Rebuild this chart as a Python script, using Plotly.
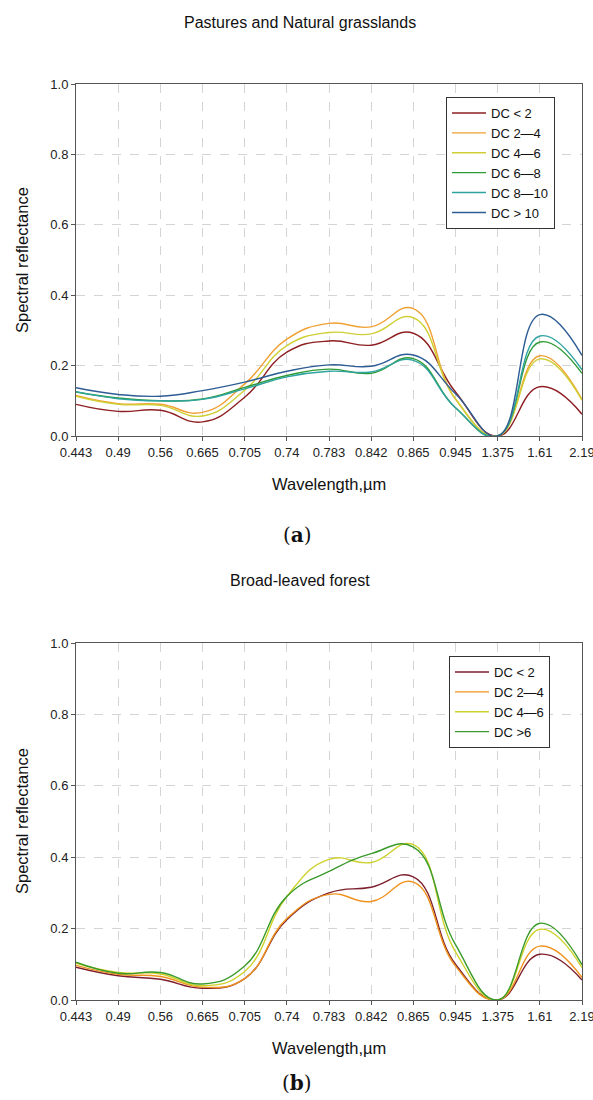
import plotly.graph_objects as go

wavelengths = ["0.443", "0.49", "0.56", "0.665", "0.705", "0.74", "0.783",
               "0.842", "0.865", "0.945", "1.375", "1.61", "2.19"]

# Panel (a): Pastures and Natural grasslands
a_names = ["DC < 2", "DC 2\u20144", "DC 4\u20146", "DC 6\u20148", "DC 8\u201410", "DC > 10"]
a_dc_lt2 = [0.090, 0.070, 0.073, 0.040, 0.110, 0.238, 0.270, 0.258, 0.292, 0.125, 0.0, 0.140, 0.062]
a_dc_2_4 = [0.115, 0.092, 0.090, 0.067, 0.148, 0.275, 0.320, 0.310, 0.362, 0.105, 0.0, 0.228, 0.104]
a_dc_4_6 = [0.113, 0.090, 0.087, 0.057, 0.130, 0.257, 0.294, 0.290, 0.336, 0.105, 0.0, 0.219, 0.102]
a_dc_6_8 = [0.125, 0.108, 0.100, 0.105, 0.138, 0.172, 0.190, 0.178, 0.220, 0.080, 0.0, 0.267, 0.178]
a_dc_8_10 = [0.126, 0.106, 0.100, 0.104, 0.134, 0.168, 0.184, 0.182, 0.215, 0.080, 0.0, 0.284, 0.188]
a_dc_gt10 = [0.137, 0.118, 0.113, 0.129, 0.153, 0.184, 0.202, 0.198, 0.230, 0.120, 0.0, 0.345, 0.229]
a_colors = ["#8e1f22", "#f0a032", "#cfcf35", "#2e9a36", "#2fa3a0", "#2d5d94"]

# Panel (b): Broad-leaved forest
b_names = ["DC < 2", "DC 2\u20144", "DC 4\u20146", "DC >6"]
b_dc_lt2 = [0.092, 0.068, 0.058, 0.033, 0.060, 0.225, 0.300, 0.316, 0.345, 0.100, 0.0, 0.128, 0.056]
b_dc_2_4 = [0.097, 0.072, 0.066, 0.036, 0.060, 0.228, 0.296, 0.276, 0.330, 0.095, 0.0, 0.151, 0.063]
b_dc_4_6 = [0.103, 0.077, 0.073, 0.040, 0.080, 0.290, 0.394, 0.385, 0.435, 0.135, 0.0, 0.198, 0.091]
b_dc_gt6 = [0.106, 0.075, 0.077, 0.045, 0.095, 0.290, 0.360, 0.410, 0.428, 0.155, 0.0, 0.215, 0.099]
b_colors = ["#7d1f2c", "#f0931e", "#cdd12a", "#3a9a2a"]

a_series = [a_dc_lt2, a_dc_2_4, a_dc_4_6, a_dc_6_8, a_dc_8_10, a_dc_gt10]
b_series = [b_dc_lt2, b_dc_2_4, b_dc_4_6, b_dc_gt6]

W, H = 593, 1100
def px_x(p):
    return p / W
def px_y(p):
    return 1 - p / H

fig = go.Figure()
for name, ys, c in zip(a_names, a_series, a_colors):
    fig.add_trace(go.Scatter(x=wavelengths, y=ys, name=name, mode="lines",
                             line=dict(color=c, width=1.4, shape="spline", smoothing=1.3),
                             xaxis="x", yaxis="y", legend="legend"))
for name, ys, c in zip(b_names, b_series, b_colors):
    fig.add_trace(go.Scatter(x=wavelengths, y=ys, name=name, mode="lines",
                             line=dict(color=c, width=1.4, shape="spline", smoothing=1.3),
                             xaxis="x2", yaxis="y2", legend="legend2"))

sans = "Liberation Sans, Arial, sans-serif"
tick_font = dict(family=sans, size=13, color="#222")
common_x = dict(type="category", range=[0, 12], showline=True, linecolor="#555", linewidth=1,
                mirror=True, ticks="outside", ticklen=4, tickcolor="#555",
                showgrid=True, gridcolor="#d4d4d4", griddash="dash", gridwidth=1,
                tickfont=tick_font, automargin=False, zeroline=False, fixedrange=True)
common_y = dict(range=[0, 1], dtick=0.2, tickformat=".1f", showline=True, linecolor="#555",
                linewidth=1, mirror=True, ticks="outside", ticklen=4, tickcolor="#555",
                showgrid=True, gridcolor="#d4d4d4", griddash="dash", gridwidth=1,
                tickfont=tick_font, automargin=False, zeroline=False)

legend_font = dict(family=sans, size=13, color="#111")
xdom = [px_x(76), px_x(582)]
fig.update_layout(
    width=W, height=H, margin=dict(l=0, r=0, t=0, b=0),
    paper_bgcolor="white", plot_bgcolor="white",
    xaxis=dict(domain=xdom, anchor="y", **common_x),
    yaxis=dict(domain=[px_y(436), px_y(84)], anchor="x", **common_y),
    xaxis2=dict(domain=xdom, anchor="y2", **common_x),
    yaxis2=dict(domain=[px_y(1000), px_y(643)], anchor="x2", **common_y),
    legend=dict(x=px_x(446), y=px_y(97), xanchor="left", yanchor="top",
                bordercolor="#333", borderwidth=1, bgcolor="white",
                font=legend_font, itemwidth=34, tracegroupgap=0),
    legend2=dict(x=px_x(449), y=px_y(656), xanchor="left", yanchor="top",
                 bordercolor="#333", borderwidth=1, bgcolor="white",
                 font=legend_font, itemwidth=34, tracegroupgap=0),
    showlegend=True,
)

title_font = dict(family=sans, size=16, color="#111")
axis_font = dict(family=sans, size=16.5, color="#111")
label_font = dict(family="DejaVu Serif, Liberation Serif, serif", size=20, color="#111")
ann = [
    dict(text="Pastures and Natural grasslands", x=px_x(300), y=px_y(22), font=title_font),
    dict(text="Spectral reflectance", x=px_x(22), y=px_y(260), font=axis_font, textangle=-90),
    dict(text="Wavelength,\u00b5m", x=px_x(329), y=px_y(484), font=axis_font),
    dict(text="(<b>a</b>)", x=px_x(297), y=px_y(535), font=label_font),
    dict(text="Broad-leaved forest", x=px_x(300), y=px_y(580), font=title_font),
    dict(text="Spectral reflectance", x=px_x(22), y=px_y(821), font=axis_font, textangle=-90),
    dict(text="Wavelength,\u00b5m", x=px_x(329), y=px_y(1048), font=axis_font),
    dict(text="(<b>b</b>)", x=px_x(297), y=px_y(1083), font=label_font),
]
for a in ann:
    a.update(xref="paper", yref="paper", showarrow=False, xanchor="center", yanchor="middle")
    fig.add_annotation(**a)

fig.write_html("out.html")
